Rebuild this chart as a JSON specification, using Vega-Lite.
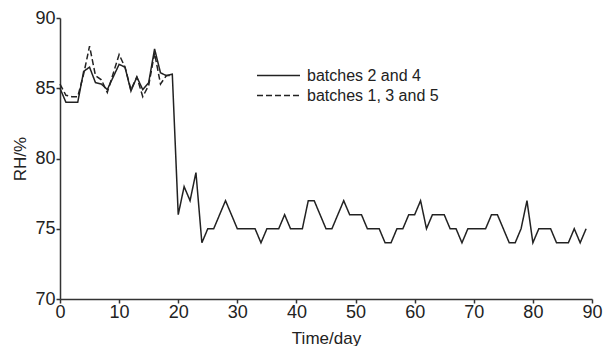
{
  "$schema": "https://vega.github.io/schema/vega-lite/v6.json",
  "width": 532,
  "height": 281,
  "autosize": {"type": "none"},
  "padding": {"left": 60, "top": 18, "right": 11, "bottom": 47},
  "background": "white",
  "datasets": {
    "rows": [
      {"series": "batches 2 and 4", "day": 0, "rh": 85},
      {"series": "batches 2 and 4", "day": 1, "rh": 84},
      {"series": "batches 2 and 4", "day": 3, "rh": 84},
      {"series": "batches 2 and 4", "day": 4, "rh": 86.2},
      {"series": "batches 2 and 4", "day": 5, "rh": 86.5},
      {"series": "batches 2 and 4", "day": 6, "rh": 85.4},
      {"series": "batches 2 and 4", "day": 7, "rh": 85.3},
      {"series": "batches 2 and 4", "day": 8, "rh": 84.9},
      {"series": "batches 2 and 4", "day": 10, "rh": 86.7},
      {"series": "batches 2 and 4", "day": 11, "rh": 86.5},
      {"series": "batches 2 and 4", "day": 12, "rh": 84.8},
      {"series": "batches 2 and 4", "day": 13, "rh": 85.8},
      {"series": "batches 2 and 4", "day": 14, "rh": 84.9},
      {"series": "batches 2 and 4", "day": 15, "rh": 85.4},
      {"series": "batches 2 and 4", "day": 16, "rh": 87.8},
      {"series": "batches 2 and 4", "day": 17, "rh": 86.1},
      {"series": "batches 2 and 4", "day": 18, "rh": 85.9},
      {"series": "batches 2 and 4", "day": 19, "rh": 86},
      {"series": "batches 2 and 4", "day": 20, "rh": 76},
      {"series": "batches 2 and 4", "day": 21, "rh": 78},
      {"series": "batches 2 and 4", "day": 22, "rh": 77},
      {"series": "batches 2 and 4", "day": 23, "rh": 79},
      {"series": "batches 2 and 4", "day": 24, "rh": 74},
      {"series": "batches 2 and 4", "day": 25, "rh": 75},
      {"series": "batches 2 and 4", "day": 26, "rh": 75},
      {"series": "batches 2 and 4", "day": 28, "rh": 77},
      {"series": "batches 2 and 4", "day": 30, "rh": 75},
      {"series": "batches 2 and 4", "day": 33, "rh": 75},
      {"series": "batches 2 and 4", "day": 34, "rh": 74},
      {"series": "batches 2 and 4", "day": 35, "rh": 75},
      {"series": "batches 2 and 4", "day": 37, "rh": 75},
      {"series": "batches 2 and 4", "day": 38, "rh": 76},
      {"series": "batches 2 and 4", "day": 39, "rh": 75},
      {"series": "batches 2 and 4", "day": 41, "rh": 75},
      {"series": "batches 2 and 4", "day": 42, "rh": 77},
      {"series": "batches 2 and 4", "day": 43, "rh": 77},
      {"series": "batches 2 and 4", "day": 45, "rh": 75},
      {"series": "batches 2 and 4", "day": 46, "rh": 75},
      {"series": "batches 2 and 4", "day": 48, "rh": 77},
      {"series": "batches 2 and 4", "day": 49, "rh": 76},
      {"series": "batches 2 and 4", "day": 51, "rh": 76},
      {"series": "batches 2 and 4", "day": 52, "rh": 75},
      {"series": "batches 2 and 4", "day": 54, "rh": 75},
      {"series": "batches 2 and 4", "day": 55, "rh": 74},
      {"series": "batches 2 and 4", "day": 56, "rh": 74},
      {"series": "batches 2 and 4", "day": 57, "rh": 75},
      {"series": "batches 2 and 4", "day": 58, "rh": 75},
      {"series": "batches 2 and 4", "day": 59, "rh": 76},
      {"series": "batches 2 and 4", "day": 60, "rh": 76},
      {"series": "batches 2 and 4", "day": 61, "rh": 77},
      {"series": "batches 2 and 4", "day": 62, "rh": 75},
      {"series": "batches 2 and 4", "day": 63, "rh": 76},
      {"series": "batches 2 and 4", "day": 65, "rh": 76},
      {"series": "batches 2 and 4", "day": 66, "rh": 75},
      {"series": "batches 2 and 4", "day": 67, "rh": 75},
      {"series": "batches 2 and 4", "day": 68, "rh": 74},
      {"series": "batches 2 and 4", "day": 69, "rh": 75},
      {"series": "batches 2 and 4", "day": 72, "rh": 75},
      {"series": "batches 2 and 4", "day": 73, "rh": 76},
      {"series": "batches 2 and 4", "day": 74, "rh": 76},
      {"series": "batches 2 and 4", "day": 76, "rh": 74},
      {"series": "batches 2 and 4", "day": 77, "rh": 74},
      {"series": "batches 2 and 4", "day": 78, "rh": 75},
      {"series": "batches 2 and 4", "day": 79, "rh": 77},
      {"series": "batches 2 and 4", "day": 80, "rh": 74},
      {"series": "batches 2 and 4", "day": 81, "rh": 75},
      {"series": "batches 2 and 4", "day": 83, "rh": 75},
      {"series": "batches 2 and 4", "day": 84, "rh": 74},
      {"series": "batches 2 and 4", "day": 86, "rh": 74},
      {"series": "batches 2 and 4", "day": 87, "rh": 75},
      {"series": "batches 2 and 4", "day": 88, "rh": 74},
      {"series": "batches 2 and 4", "day": 89, "rh": 75},
      {"series": "batches 1, 3 and 5", "day": 0, "rh": 85.3},
      {"series": "batches 1, 3 and 5", "day": 1, "rh": 84.5},
      {"series": "batches 1, 3 and 5", "day": 2, "rh": 84.4},
      {"series": "batches 1, 3 and 5", "day": 3, "rh": 84.4},
      {"series": "batches 1, 3 and 5", "day": 4, "rh": 86.0},
      {"series": "batches 1, 3 and 5", "day": 5, "rh": 88.0},
      {"series": "batches 1, 3 and 5", "day": 6, "rh": 85.9},
      {"series": "batches 1, 3 and 5", "day": 7, "rh": 85.6},
      {"series": "batches 1, 3 and 5", "day": 8, "rh": 84.7},
      {"series": "batches 1, 3 and 5", "day": 10, "rh": 87.4},
      {"series": "batches 1, 3 and 5", "day": 11, "rh": 86.5},
      {"series": "batches 1, 3 and 5", "day": 12, "rh": 84.9},
      {"series": "batches 1, 3 and 5", "day": 13, "rh": 85.8},
      {"series": "batches 1, 3 and 5", "day": 14, "rh": 84.4},
      {"series": "batches 1, 3 and 5", "day": 15, "rh": 85.2},
      {"series": "batches 1, 3 and 5", "day": 16, "rh": 87.5},
      {"series": "batches 1, 3 and 5", "day": 17, "rh": 85.3},
      {"series": "batches 1, 3 and 5", "day": 18, "rh": 85.9},
      {"series": "batches 1, 3 and 5", "day": 19, "rh": 85.9}
    ]
  },
  "data": {"name": "rows"},
  "mark": {"type": "line", "strokeWidth": 1.5, "color": "#222222"},
  "encoding": {
    "x": {
      "field": "day",
      "type": "quantitative",
      "scale": {"domain": [0, 90], "nice": false, "zero": false},
      "axis": {"title": "Time/day", "values": [0, 10, 20, 30, 40, 50, 60, 70, 80, 90], "labelFlush": false, "labelPadding": 0, "titlePadding": 9}
    },
    "y": {
      "field": "rh",
      "type": "quantitative",
      "scale": {"domain": [70, 90], "nice": false, "zero": false},
      "axis": {"title": "RH/%", "values": [70, 75, 80, 85, 90], "labelPadding": 1, "titlePadding": 5}
    },
    "strokeDash": {
      "field": "series",
      "type": "nominal",
      "scale": {"domain": ["batches 2 and 4", "batches 1, 3 and 5"], "range": [[1, 0], [6, 3]]},
      "legend": {
        "title": null,
        "orient": "none",
        "legendX": 207,
        "legendY": 46,
        "symbolType": "M-2,0H2",
        "symbolSize": 462,
        "symbolStrokeWidth": 1.5,
        "symbolStrokeColor": "#222222",
        "symbolFillColor": "transparent",
        "labelFontSize": 16,
        "labelFont": "Liberation Sans",
        "labelColor": "#222222",
        "labelOffset": 17,
        "rowPadding": 0
      }
    }
  },
  "config": {
    "view": {"stroke": null},
    "axis": {
      "grid": false,
      "domainColor": "#333333",
      "domainWidth": 1.5,
      "tickColor": "#333333",
      "tickWidth": 1.5,
      "tickSize": 4,
      "labelFont": "Liberation Sans",
      "labelFontSize": 18,
      "labelColor": "#222222",
      "titleFont": "Liberation Sans",
      "titleFontSize": 17,
      "titleFontWeight": "normal",
      "titleColor": "#222222"
    }
  }
}
